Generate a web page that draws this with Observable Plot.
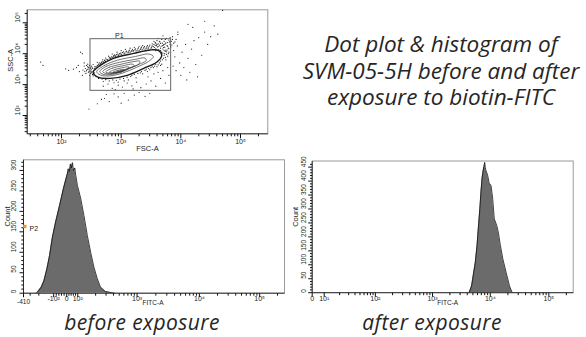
<!DOCTYPE html>
<html><head><meta charset="utf-8">
<script src="https://cdn.jsdelivr.net/npm/d3@7"></script>
<script src="https://cdn.jsdelivr.net/npm/@observablehq/plot@0.6"></script>
<style>
html,body{margin:0;padding:0;background:#fff;}
#wrap{position:relative;width:586px;height:337px;overflow:hidden;background:#fff;}
.panel{position:absolute;}
.panel svg{background:transparent !important;overflow:visible;}
.title{position:absolute;left:296px;top:31px;width:290px;text-align:center;font-family:"Open Sans",Lato,sans-serif;font-style:italic;font-size:22.5px;line-height:26.5px;color:#262626;white-space:nowrap;}
.cap{position:absolute;top:311px;width:284px;text-align:center;font-family:"Open Sans",Lato,sans-serif;font-style:italic;font-size:21px;letter-spacing:0.4px;line-height:22px;color:#262626;white-space:nowrap;}
</style></head>
<body>
<div id="wrap">
  <div class="panel" id="pA" style="left:0;top:0"></div>
  <div class="panel" id="pB" style="left:0;top:150px"></div>
  <div class="panel" id="pC" style="left:290px;top:150px"></div>
  <div class="title">Dot plot &amp; histogram of<br>SVM-05-5H before and after<br>exposure to biotin-FITC</div>
  <div class="cap" style="left:0">before exposure</div>
  <div class="cap" style="left:290px">after exposure</div>
</div>
<script>
// ---------------- DATA ----------------
// Dot plot outliers: [log10 FSC-A, log10 SSC-A]
const dotPoints = [
  [2.40,3.52],[2.42,3.45],[2.44,3.58],[2.45,3.40],[2.46,3.50],[2.47,3.62],[2.48,3.44],[2.48,3.55],[2.49,3.36],[2.50,3.48],
  [2.50,3.60],[2.51,3.42],[2.52,3.53],[2.52,3.33],[2.53,3.65],[2.54,3.46],[2.55,3.38],[2.44,3.66],[2.41,3.36],[2.47,3.30],
  [2.38,3.60],[2.36,3.47],[2.56,3.58],[2.53,3.28],[2.43,3.49],[2.46,3.43],[2.49,3.52],[2.51,3.57],[2.45,3.55],[2.50,3.40],
  [2.54,3.35],[2.42,3.62],[2.39,3.42],[2.55,3.52],
  [2.58,3.58],[2.60,3.62],[2.62,3.66],[2.64,3.70],[2.66,3.68],[2.68,3.74],[2.70,3.71],[2.72,3.78],[2.74,3.75],[2.76,3.82],
  [2.78,3.79],[2.80,3.86],[2.82,3.84],[2.84,3.90],[2.86,3.88],[2.88,3.94],[2.90,3.91],[2.92,3.97],[2.95,3.94],[2.97,4.00],
  [3.00,3.97],[3.02,4.04],[3.05,4.00],[3.08,4.06],[3.10,4.03],[3.13,4.09],[3.15,4.05],[3.18,4.11],[3.20,4.07],[3.23,4.13],
  [3.25,4.09],[3.28,4.16],[3.30,4.11],[3.33,4.18],[3.35,4.13],[3.38,4.20],[3.40,4.15],[3.43,4.22],[3.45,4.16],[3.47,4.24],
  [2.69,3.80],[2.79,3.92],[2.93,4.05],[3.07,4.14],[3.22,4.20],[3.36,4.26],[2.60,3.72],[2.85,3.99],[3.00,4.10],[3.15,4.18],
  [2.74,3.86],[3.30,4.24],
  [2.56,3.50],[2.58,3.54],[2.61,3.60],[2.63,3.63],[2.65,3.66],[2.67,3.71],[2.71,3.74],[2.73,3.80],[2.77,3.80],[2.81,3.88],
  [2.83,3.86],[2.87,3.92],[2.89,3.96],[2.91,3.93],[2.94,3.99],[2.96,3.96],[2.99,4.02],[3.01,3.99],[3.04,4.06],[3.06,4.02],
  [3.09,4.08],[3.12,4.05],[3.14,4.12],[3.17,4.08],[3.19,4.14],[3.21,4.10],[3.24,4.16],[3.27,4.12],[3.29,4.19],[3.32,4.14],
  [3.34,4.21],[3.37,4.16],[3.39,4.23],[3.42,4.18],[3.44,4.26],[3.46,4.19],[3.48,4.28],[3.51,4.21],[3.54,4.23],[3.57,4.27],
  [3.60,4.30],[3.63,4.24],[3.66,4.33],[3.69,4.26],[3.72,4.30],[3.75,4.35],[3.78,4.24],[3.81,4.38],[3.85,4.28],[3.80,4.16],
  [3.77,4.12],[3.72,4.10],[3.68,4.05],[3.73,4.00],[3.76,4.06],[3.79,4.00],[3.71,4.20],[3.64,4.40],[3.58,4.34],[3.52,4.32],
  [3.86,4.46],[3.90,4.38],[3.82,4.52],[3.74,4.46],
  [3.50,4.18],[3.52,4.25],[3.53,4.14],[3.55,4.30],[3.56,4.20],[3.57,4.36],[3.58,4.16],[3.59,4.26],[3.60,4.42],[3.61,4.22],
  [3.62,4.32],[3.63,4.13],[3.64,4.28],[3.65,4.38],[3.66,4.18],[3.67,4.24],[3.68,4.46],[3.69,4.34],[3.70,4.15],[3.71,4.28],
  [3.72,4.40],[3.73,4.21],[3.74,4.32],[3.75,4.12],[3.76,4.50],[3.77,4.26],[3.78,4.36],[3.79,4.18],[3.80,4.44],[3.82,4.30],
  [3.83,4.22],[3.84,4.40],[3.86,4.55],[3.88,4.34],[3.62,4.50],[3.55,4.40],[3.70,4.58],[3.92,4.46],[3.95,4.62],[3.58,4.10],
  [3.66,4.10],[3.74,4.08],
  [3.70,4.02],[3.72,3.95],[3.74,3.88],[3.71,3.85],[3.69,3.80],[3.66,3.76],[3.64,3.70],[3.76,3.98],[3.78,3.92],[3.80,4.05],
  [3.75,3.80],[3.68,3.66],[3.66,3.62],[3.62,3.64],[3.56,3.60],[3.54,3.55],[3.48,3.48],[3.42,3.50],[3.32,3.38],[3.18,3.30],
  [3.58,3.65],[3.52,3.60],[3.46,3.52],[3.40,3.46],[3.34,3.42],[3.28,3.36],[3.22,3.33],[3.16,3.26],[3.10,3.24],[3.04,3.20],
  [2.98,3.18],[2.92,3.14],[2.86,3.15],[2.80,3.12],[2.74,3.16],[2.68,3.18],[2.62,3.20],[2.58,3.26],[3.50,3.55],[3.44,3.42],
  [3.25,3.22],[3.12,3.15],[2.95,3.08],[2.70,3.10],[3.36,3.35],[3.60,3.58],[3.05,3.12],[2.88,3.06],
  [2.70,2.95],[2.78,3.02],[2.85,2.88],[2.95,2.98],[3.02,2.92],[3.10,3.05],[3.18,2.96],[3.26,3.08],[3.33,2.90],[3.42,3.02],
  [3.50,3.12],[3.58,2.95],[3.66,3.20],[3.74,3.05],[3.80,3.30],[3.55,3.35],[3.45,3.25],[3.70,3.45],[3.78,3.55],[2.90,2.84],
  [3.20,2.86],[3.62,3.40],
  [2.46,2.21],[2.60,2.38],[2.72,2.55],[2.80,2.45],[2.88,2.70],[2.95,2.60],[3.05,2.72],[3.12,2.50],[3.22,2.66],[3.30,2.75],
  [3.40,2.62],[3.00,2.40],[2.75,2.68],[3.48,2.72],[2.67,2.52],
  [3.88,4.10],[3.90,3.90],[3.94,4.25],[3.98,3.70],[4.02,4.05],[4.05,3.55],[4.08,4.30],[4.12,3.85],[4.15,3.40],[4.18,4.15],
  [4.22,4.42],[4.25,3.65],[4.30,4.52],[4.35,3.95],[4.40,4.70],[4.45,4.30],[4.50,4.55],[4.56,4.90],[4.62,4.63],[3.92,3.45],
  [4.00,3.30],[4.10,3.15],[3.87,3.60],[4.28,3.25],[3.95,4.70],[4.20,4.85],[4.12,4.95],[4.40,5.05],[4.70,5.40],
  [1.65,3.73],[1.69,3.62],[2.07,3.51],[2.12,3.46],[2.32,4.05],[2.35,4.00],[2.25,3.55],[2.30,3.42],[2.20,3.50],[2.35,3.30],
  [2.38,3.70],[2.28,3.62]
];
// Contour levels (outer to inner): [log10 FSC-A, log10 SSC-A]
const contour0 = [[2.53,3.40],[2.65,3.62],[2.87,3.85],[3.21,4.01],[3.49,4.12],[3.63,4.10],[3.68,3.94],[3.60,3.73],[3.37,3.52],[3.10,3.30],[2.82,3.20],[2.62,3.23]];
const contour1 = [[2.59,3.42],[2.72,3.62],[2.94,3.79],[3.24,3.91],[3.46,3.99],[3.54,3.91],[3.46,3.75],[3.26,3.56],[3.02,3.37],[2.80,3.28],[2.65,3.31]];
const contour2 = [[2.64,3.42],[2.75,3.59],[2.97,3.72],[3.22,3.81],[3.40,3.86],[3.42,3.78],[3.28,3.64],[3.08,3.47],[2.88,3.34],[2.70,3.33]];
const contour3 = [[2.69,3.42],[2.80,3.56],[3.00,3.66],[3.20,3.74],[3.31,3.76],[3.30,3.67],[3.14,3.54],[2.96,3.40],[2.76,3.35]];
const contour4 = [[2.74,3.41],[2.85,3.53],[3.03,3.61],[3.19,3.66],[3.22,3.61],[3.10,3.51],[2.95,3.41],[2.80,3.37]];
const contour5 = [[2.80,3.40],[2.90,3.49],[3.03,3.55],[3.13,3.57],[3.12,3.51],[3.00,3.44],[2.86,3.38]];
const contour6 = [[2.86,3.40],[2.95,3.46],[3.05,3.49],[3.06,3.45],[2.96,3.40],[2.89,3.38]];
const contour7 = [[2.92,3.40],[2.99,3.44],[3.02,3.42],[2.96,3.39]];
const contourLevels = [contour0, contour1, contour2, contour3, contour4, contour5, contour6, contour7];
// Gate P1 (FSC-A and SSC-A bounds) and its label anchor
const gateFSC = [306, 6890];
const gateSSC = [630, 29400];
const gateName = "P1", gateLabelFSC = 930;

// Histogram before exposure (FITC-A value, count)
const beforeFITC  = [-230,-215,-178,-157,-137,-121,-107,-85,-55,-25,-5,6,15,25,34,43,52,61,73,82,97,112,127,145,165,187,213,241,293,379,420];
const beforeCount = [0,2,15,31,60,92,134,174,214,256,280,292,304,298,316,306,319,300,306,288,263,232,190,141,100,64,36,15,4,1,0];
// Histogram after exposure
const afterFITC  = [4300,4750,5050,5500,5900,6200,6600,6900,7200,7550,7800,8000,8200,8400,9000,9600,10300,11000,11700,12900,13700,14900,16400,18700,21300,23400,24000];
const afterCount = [0,24,60,108,169,229,301,361,409,439,452,467,448,439,421,391,385,337,265,241,217,169,121,72,24,3,0];
const gateP2 = {name: "P2", fitc: -410, count: 158};

// Axis ticks
const dpMajor = [100, 1000, 10000, 100000];
const dpMajorLabels = ["10²", "10³", "10⁴", "10⁵"];
const dpMinor = [30,40,50,60,70,80,90,200,300,400,500,600,700,800,900,2000,3000,4000,5000,6000,7000,8000,9000,20000,30000,40000,50000,60000,70000,80000,90000,200000];
const befMajor = [-100, 0, 100, 1000, 10000, 100000];
const befMajorLabels = ["-10²", "0", "10²", "10³", "10⁴", "10⁵"];
const befEdge = -410, befEdgeLabel = "-410";
const befMinor = [-300,-200,-80,-60,-40,-20,20,40,60,80,200,300,400,500,600,700,800,900,2000,3000,4000,5000,6000,7000,8000,9000,20000,30000,40000,50000,60000,70000,80000,90000,200000];
const aftMajor = [0, 10, 100, 1000, 10000, 100000];
const aftMajorLabels = ["0", "10¹", "10²", "10³", "10⁴", "10⁵"];
const aftMinor = [20,30,40,50,60,70,80,90,200,300,400,500,600,700,800,900,2000,3000,4000,5000,6000,7000,8000,9000,20000,30000,40000,50000,60000,70000,80000,90000,200000];
const befCountMajor = [0,50,100,150,200,250,300];
const aftCountMajor = [0,50,100,150,200,250,300,350,400,450];

// Biexponential display scale approximations: [value, display unit]
const befAnchors = [[-410,-43],[-100,-13],[0,0],[100,11],[1000,70],[10000,132],[100000,192],[262144,216.7]];
const aftAnchors = [[0,0],[10,12],[100,63],[1000,120],[10000,177.6],[100000,236],[262144,260.3]];

// ---------------- HELPERS ----------------
function anchorScale(anchors) {
  const n = anchors.length;
  return v => {
    let i = 0;
    while (i < n - 2 && v > anchors[i + 1][0]) i++;
    const [v0, u0] = anchors[i], [v1, u1] = anchors[i + 1];
    const same = (v0 > 0 && v1 > 0) || (v0 < 0 && v1 < 0);
    const t = same
      ? (Math.log10(Math.abs(v)) - Math.log10(Math.abs(v0))) / (Math.log10(Math.abs(v1)) - Math.log10(Math.abs(v0)))
      : (v - v0) / (v1 - v0);
    return u0 + t * (u1 - u0);
  };
}
const TB = anchorScale(befAnchors);
const TA = anchorScale(aftAnchors);
const tickStroke = "#111";
const frameStroke = "#9a9a9a";
const font = "'Liberation Sans', Arial, sans-serif";
const fs = "7px";

// value lying `len` pixels beyond the low end of a domain
function beyond(dom, span, len, log) {
  if (log) return dom[0] * 10 ** (-len * (Math.log10(dom[1]) - Math.log10(dom[0])) / span);
  return dom[0] - len * (dom[1] - dom[0]) / span;
}
function xTickMarks(vals, fx, len, yDom, fh, log) {
  const y2 = beyond(yDom, fh, len, log);
  return Plot.link(vals, {x1: fx, x2: fx, y1: () => yDom[0], y2: () => y2, stroke: tickStroke, strokeWidth: 1});
}
function yTickMarks(vals, fy, len, xDom, fw, log) {
  const x2 = beyond(xDom, fw, len, log);
  return Plot.link(vals, {y1: fy, y2: fy, x1: () => xDom[0], x2: () => x2, stroke: tickStroke, strokeWidth: 1});
}

// ---------------- PANEL A: dot plot ----------------
{
  const W = 290, H = 158, m = {l: 26.7, r: 22.7, t: 9.3, b: 24.7};
  const fw = W - m.l - m.r, fh = H - m.t - m.b;
  const contourRows = contourLevels.flatMap((c, k) => c.map(([a, b]) => ({level: k, fsc: 10 ** a, ssc: 10 ** b})));
  const xDom = [10 ** 1.425, 10 ** 5.4575], yDom = [10 ** 1.408, 10 ** 5.42];
  const p = Plot.plot({
    width: W, height: H, marginLeft: m.l, marginRight: m.r, marginTop: m.t, marginBottom: m.b,
    style: {fontFamily: font, fontSize: fs, background: "transparent", overflow: "visible", color: "#222"},
    x: {type: "log", domain: xDom, axis: null},
    y: {type: "log", domain: yDom, axis: null},
    marks: [
      Plot.frame({stroke: frameStroke}),
      Plot.link([0], {x1: () => xDom[0], x2: () => xDom[0], y1: () => yDom[0], y2: () => yDom[1], stroke: tickStroke, strokeWidth: 0.8}),
      Plot.link([0], {x1: () => xDom[0], x2: () => xDom[1], y1: () => yDom[0], y2: () => yDom[0], stroke: tickStroke, strokeWidth: 0.8}),
      Plot.dot(dotPoints, {x: d => 10 ** d[0], y: d => 10 ** d[1], r: 0.6, fill: "#1e1e1e", stroke: null}),
      Plot.line(contourRows.filter(d => d.level > 0), {x: "fsc", y: "ssc", z: "level", curve: "catmull-rom-closed", stroke: "#3a3a3a", strokeWidth: 0.7}),
      Plot.line(contourRows.filter(d => d.level === 0), {x: "fsc", y: "ssc", curve: "catmull-rom-closed", stroke: "#1a1a1a", strokeWidth: 1.4}),
      Plot.rect([0], {x1: () => gateFSC[0], x2: () => gateFSC[1], y1: () => gateSSC[0], y2: () => gateSSC[1], fill: "none", stroke: "#555", strokeWidth: 0.9}),
      Plot.text([gateName], {x: () => gateLabelFSC, y: () => gateSSC[1], text: d => d, dy: -3, fontSize: 7}),
      xTickMarks(dpMajor, d => d, 4.5, yDom, fh, true),
      xTickMarks(dpMinor, d => d, 2.5, yDom, fh, true),
      yTickMarks(dpMajor, d => d, 4.5, xDom, fw, true),
      yTickMarks(dpMinor, d => d, 2.5, xDom, fw, true),
      Plot.text(dpMajor, {x: d => d, text: (d, i) => dpMajorLabels[i], frameAnchor: "bottom", dy: 10}),
      Plot.text(dpMajor, {y: d => d, text: (d, i) => dpMajorLabels[i], frameAnchor: "left", dx: -9, rotate: -90}),
      Plot.text(["FSC-A"], {text: d => d, frameAnchor: "bottom", dy: 17, fontSize: 7.5}),
      Plot.text(["SSC-A"], {text: d => d, frameAnchor: "left", dx: -17, rotate: -90, fontSize: 7.5})
    ]
  });
  document.getElementById("pA").append(p);
}

// ---------------- PANEL B: before exposure ----------------
{
  const W = 290, H = 160, m = {l: 23, r: 6, t: 9.3, b: 17.3};
  const fw = W - m.l - m.r, fh = H - m.t - m.b;
  const rows = beforeFITC.map((v, i) => ({v, c: beforeCount[i]}));
  const xDom = [TB(-410), TB(262144)], yDom = [0, 326];
  const p = Plot.plot({
    width: W, height: H, marginLeft: m.l, marginRight: m.r, marginTop: m.t, marginBottom: m.b,
    style: {fontFamily: font, fontSize: fs, background: "transparent", overflow: "visible", color: "#222"},
    x: {domain: xDom, axis: null},
    y: {domain: yDom, axis: null},
    marks: [
      Plot.areaY(rows, {x: d => TB(d.v), y: "c", fill: "#6b6b6b"}),
      Plot.lineY(rows, {x: d => TB(d.v), y: "c", stroke: "#111", strokeWidth: 0.8}),
      Plot.frame({stroke: frameStroke}),
      Plot.link([0], {x1: () => xDom[0], x2: () => xDom[0], y1: () => yDom[0], y2: () => yDom[1], stroke: tickStroke, strokeWidth: 0.8}),
      Plot.link([0], {x1: () => xDom[0], x2: () => xDom[1], y1: () => 0, y2: () => 0, stroke: tickStroke, strokeWidth: 0.8}),
      xTickMarks(befMajor.concat([befEdge]), d => TB(d), 4, yDom, fh, false),
      xTickMarks(befMinor, d => TB(d), 2.5, yDom, fh, false),
      yTickMarks(befCountMajor, d => d, 4, xDom, fw, false),
      yTickMarks(d3.range(10, 330, 10).filter(d => d % 50), d => d, 2.2, xDom, fw, false),
      Plot.text(befMajor, {x: d => TB(d), text: (d, i) => befMajorLabels[i], frameAnchor: "bottom", dy: 8}),
      Plot.text([befEdge], {x: d => TB(d), text: () => befEdgeLabel, frameAnchor: "bottom", dy: 11, fontSize: 6.5}),
      Plot.text(befCountMajor, {y: d => d, text: d => String(d), frameAnchor: "left", dx: -9.5, rotate: -90, fontSize: 6.5}),
      Plot.text(["FITC-A"], {text: d => d, frameAnchor: "bottom", dy: 11.5, dx: -1, fontSize: 6.5}),
      Plot.text(["Count"], {text: d => d, frameAnchor: "left", dx: -16, rotate: -90, fontSize: 7.5}),
      Plot.dot([gateP2], {x: d => TB(d.fitc), y: d => d.count + 5, symbol: "square", r: 1.9, fill: "#f7941d", stroke: null, dx: 1.3}),
      Plot.text([gateP2], {x: d => TB(d.fitc), y: "count", text: "name", dx: 6, textAnchor: "start", fontSize: 7})
    ]
  });
  document.getElementById("pB").append(p);
}

// ---------------- PANEL C: after exposure ----------------
{
  const W = 296, H = 160, m = {l: 21.7, r: 13.3, t: 10.5, b: 17.8};
  const fw = W - m.l - m.r, fh = H - m.t - m.b;
  const rows = afterFITC.map((v, i) => ({v, c: afterCount[i]}));
  const xDom = [TA(0), TA(262144)], yDom = [0, 472];
  const p = Plot.plot({
    width: W, height: H, marginLeft: m.l, marginRight: m.r, marginTop: m.t, marginBottom: m.b,
    style: {fontFamily: font, fontSize: fs, background: "transparent", overflow: "visible", color: "#222"},
    x: {domain: xDom, axis: null},
    y: {domain: yDom, axis: null},
    marks: [
      Plot.areaY(rows, {x: d => TA(d.v), y: "c", fill: "#6b6b6b"}),
      Plot.lineY(rows, {x: d => TA(d.v), y: "c", stroke: "#111", strokeWidth: 0.8}),
      Plot.frame({stroke: frameStroke}),
      Plot.link([0], {x1: () => xDom[0], x2: () => xDom[0], y1: () => yDom[0], y2: () => yDom[1], stroke: tickStroke, strokeWidth: 0.8}),
      Plot.link([0], {x1: () => xDom[0], x2: () => xDom[1], y1: () => 0, y2: () => 0, stroke: tickStroke, strokeWidth: 0.8}),
      xTickMarks(aftMajor, d => TA(d), 4, yDom, fh, false),
      xTickMarks(aftMinor, d => TA(d), 2.5, yDom, fh, false),
      yTickMarks(aftCountMajor, d => d, 4, xDom, fw, false),
      yTickMarks(d3.range(10, 470, 10).filter(d => d % 50), d => d, 2.2, xDom, fw, false),
      Plot.text(aftMajor, {x: d => TA(d), text: (d, i) => aftMajorLabels[i], frameAnchor: "bottom", dy: 8}),
      Plot.text(aftCountMajor, {y: d => d, text: d => String(d), frameAnchor: "left", dx: -8.5, rotate: -90, fontSize: 6.5}),
      Plot.text(["FITC-A"], {text: d => d, frameAnchor: "bottom", dy: 12, dx: 5, fontSize: 6.5}),
      Plot.text(["Count"], {text: d => d, frameAnchor: "left", dx: -16.5, rotate: -90, fontSize: 7.5})
    ]
  });
  document.getElementById("pC").append(p);
}
</script>
</body></html>
